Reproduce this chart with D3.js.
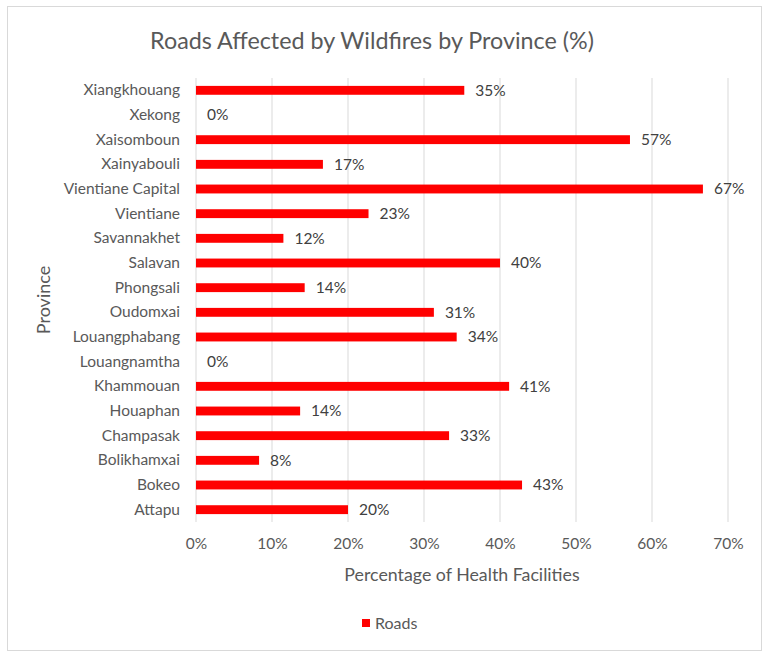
<!DOCTYPE html>
<html><head><meta charset="utf-8">
<script src="https://cdn.jsdelivr.net/npm/d3@7"></script>
<style>body{margin:0;background:#fff;} svg{display:block;font-family:Lato,"Open Sans",sans-serif;}</style>
</head><body>
<svg id="c" width="764" height="653"></svg>
<script>
const categories = ["Xiangkhouang","Xekong","Xaisomboun","Xainyabouli","Vientiane Capital","Vientiane","Savannakhet","Salavan","Phongsali","Oudomxai","Louangphabang","Louangnamtha","Khammouan","Houaphan","Champasak","Bolikhamxai","Bokeo","Attapu"];
const roads = [35.3,0,57.1,16.7,66.7,22.7,11.5,40.0,14.3,31.3,34.3,0,41.2,13.7,33.3,8.3,42.9,20.0];
const xTicks = [0,10,20,30,40,50,60,70];
const title = "Roads Affected by Wildfires by Province (%)";
const xTitle = "Percentage of Health Facilities";
const yTitle = "Province";
const seriesName = "Roads";

const svg = d3.select("#c");
const txt = "#595959";
svg.append("rect").attr("x",7.5).attr("y",6.5).attr("width",754).attr("height",644)
  .attr("fill","#fff").attr("stroke","#d9d9d9").attr("stroke-width",1);

const L=196, R=728, T=78, B=522;
const x = d3.scaleLinear().domain([0,70]).range([L,R]);
const y = d3.scaleBand().domain(categories).range([T,B]).paddingInner(0.64).paddingOuter(0.32);

svg.append("g").selectAll("line").data(xTicks).join("line")
  .attr("x1",d=>x(d)).attr("x2",d=>x(d)).attr("y1",T).attr("y2",B)
  .attr("stroke","#d9d9d9").attr("stroke-width",1);

const xa = svg.append("g").attr("transform",`translate(0,${B})`)
  .call(d3.axisBottom(x).tickValues(xTicks).tickFormat(d=>d+"%").tickSize(0).tickPadding(16));
xa.select(".domain").remove();
xa.selectAll("text").attr("fill",txt).attr("font-size",15.5).attr("font-family","Lato");

const ya = svg.append("g").attr("transform",`translate(${L},0)`)
  .call(d3.axisLeft(y).tickSize(0).tickPadding(16));
ya.select(".domain").remove();
ya.selectAll("text").attr("fill",txt).attr("font-size",15.5).attr("font-family","Lato");

svg.append("g").selectAll("rect").data(roads).join("rect")
  .attr("x",x(0)).attr("y",(d,i)=>y(categories[i]))
  .attr("width",d=>x(d)-x(0)).attr("height",y.bandwidth()).attr("fill","#ff0000");

svg.append("g").selectAll("text").data(roads).join("text")
  .attr("x",d=>x(d)+11).attr("y",(d,i)=>y(categories[i])+y.bandwidth()/2)
  .attr("dy","0.35em").attr("fill","#404040").attr("font-size",15.5)
  .text(d=>Math.round(d)+"%");

svg.append("text").attr("x",372).attr("y",49).attr("text-anchor","middle")
  .attr("fill",txt).attr("font-size",23.3).text(title);
svg.append("text").attr("x",(L+R)/2).attr("y",581).attr("text-anchor","middle")
  .attr("fill",txt).attr("font-size",17.8).text(xTitle);
svg.append("text").attr("transform",`translate(50,${(T+B)/2}) rotate(-90)`).attr("text-anchor","middle")
  .attr("fill",txt).attr("font-size",18).text(yTitle);

const lg = svg.append("g");
lg.append("rect").attr("x",362).attr("y",619).attr("width",8).attr("height",8).attr("fill","#ff0000");
lg.append("text").attr("x",375).attr("y",623).attr("dy","0.35em").attr("fill",txt).attr("font-size",16).text(seriesName);
</script>
</body></html>
